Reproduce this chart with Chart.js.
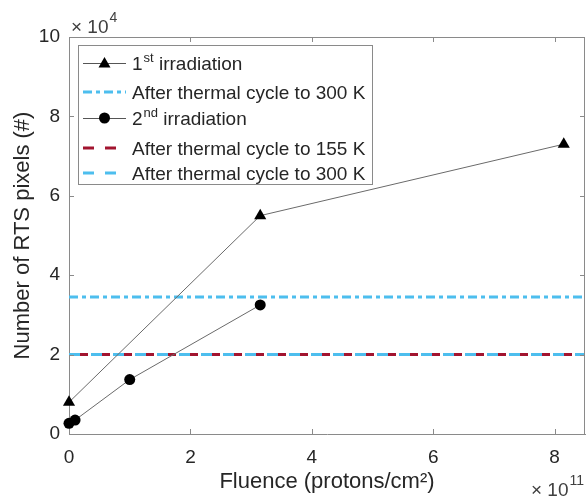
<!DOCTYPE html>
<html>
<head>
<meta charset="utf-8">
<script src="https://cdn.jsdelivr.net/npm/chart.js@4.4.1/dist/chart.umd.min.js"></script>
<style>
  html, body { margin: 0; padding: 0; background: #fff; overflow: hidden; }
  #wrap { width: 592px; height: 502px; }
</style>
</head>
<body>
<div id="wrap"><canvas id="myChart"></canvas></div>
<script>
// values in axis units: fluence x1e11, pixels x1e4
var fluence1 = [0, 3.15, 8.15];
var pixels1 = [0.8, 5.5, 7.3];
var fluence2 = [0, 0.1, 1.0, 3.15];
var pixels2 = [0.27, 0.35, 1.37, 3.25];
var hlineX = [0, 8.5];
var after1_300 = 3.45;
var after2_155 = 2.0;
var after2_300 = 2.0;
var xTicks = [0, 2, 4, 6, 8];
var yTicks = [0, 2, 4, 6, 8, 10];

var CYAN = '#4DBEEE';
var RED = '#A2142F';
var AXIS = '#8a8a8a';
var TXT = '#262626';
var FONT = 'Liberation Sans, Arial, sans-serif';

function pts(xs, ys) {
    var out = [];
    for (var i = 0; i < xs.length; i++) out.push({x: xs[i], y: ys[i]});
    return out;
}
function hline(v) {
    return [{x: hlineX[0], y: v}, {x: hlineX[1], y: v}];
}

var legendRows = [
    {kind: 'tri', pre: '1', sup: 'st', post: ' irradiation'},
    {kind: 'dashdot', pre: 'After thermal cycle to 300 K'},
    {kind: 'circ', pre: '2', sup: 'nd', post: ' irradiation'},
    {kind: 'red', pre: 'After thermal cycle to 155 K'},
    {kind: 'cyan', pre: 'After thermal cycle to 300 K'}
];

function expLabel(c, x, y, base, exp) {
    c.font = '19px ' + FONT;
    c.fillText(base, x, y);
    var w = c.measureText(base).width;
    c.font = '14px ' + FONT;
    c.fillText(exp, x + w + 1, y - 10);
}

var matlabBits = {
    id: 'matlabBits',
    afterDraw: function (chart) {
        var c = chart.ctx, a = chart.chartArea;
        var xs = chart.scales.x, ys = chart.scales.y;
        c.save();
        // box top/right
        c.strokeStyle = AXIS;
        c.lineWidth = 1;
        c.beginPath();
        c.moveTo(a.left, a.top + 0.5); c.lineTo(a.right, a.top + 0.5);
        c.moveTo(a.right - 0.5, a.top); c.lineTo(a.right - 0.5, a.bottom);
        c.stroke();
        // inward ticks
        c.beginPath();
        xTicks.forEach(function (v) {
            var px = Math.round(xs.getPixelForValue(v)) + 0.5;
            c.moveTo(px, a.bottom); c.lineTo(px, a.bottom - 5);
            c.moveTo(px, a.top); c.lineTo(px, a.top + 5);
        });
        yTicks.forEach(function (v) {
            var py = Math.round(ys.getPixelForValue(v)) + 0.5;
            c.moveTo(a.left, py); c.lineTo(a.left + 5, py);
            c.moveTo(a.right, py); c.lineTo(a.right - 5, py);
        });
        c.stroke();

        // exponent labels
        c.fillStyle = '#404040';
        c.textBaseline = 'middle';
        c.textAlign = 'left';
        expLabel(c, 71, 28, '\u00d7 10', '4');
        expLabel(c, 531, 491, '\u00d7 10', '11');

        // legend
        var L = 78, T = 45, R = 372, B = 184;
        c.fillStyle = '#fff';
        c.fillRect(L, T, R - L, B - T);
        c.strokeStyle = AXIS;
        c.strokeRect(L + 0.5, T + 0.5, R - L, B - T);
        var rowY = [63, 92, 118, 148, 173];
        var x0 = 83, x1 = 126, tx = 132;
        legendRows.forEach(function (row, i) {
            var y = rowY[i];
            c.save();
            if (row.kind === 'tri' || row.kind === 'circ') {
                c.strokeStyle = '#555';
                c.lineWidth = 1;
                c.beginPath(); c.moveTo(x0, y + 0.5); c.lineTo(x1, y + 0.5); c.stroke();
                c.fillStyle = '#000';
                var mx = (x0 + x1) / 2;
                c.beginPath();
                if (row.kind === 'tri') {
                    c.moveTo(mx, y - 6); c.lineTo(mx + 6, y + 4.5); c.lineTo(mx - 6, y + 4.5);
                    c.closePath();
                } else {
                    c.arc(mx, y, 5.5, 0, Math.PI * 2);
                }
                c.fill();
            } else {
                c.lineWidth = 3;
                if (row.kind === 'dashdot') { c.strokeStyle = CYAN; c.setLineDash([9, 4, 4, 4]); }
                if (row.kind === 'red') { c.strokeStyle = RED; c.setLineDash([11, 11]); }
                if (row.kind === 'cyan') { c.strokeStyle = CYAN; c.setLineDash([11, 11]); }
                c.beginPath(); c.moveTo(x0, y); c.lineTo(x1, y); c.stroke();
            }
            c.restore();
            c.fillStyle = TXT;
            c.textBaseline = 'alphabetic';
            c.font = '19px ' + FONT;
            var bx = y + 7;
            var cx = tx;
            c.fillText(row.pre, cx, bx);
            cx += c.measureText(row.pre).width;
            if (row.sup) {
                c.font = '13px ' + FONT;
                c.fillText(row.sup, cx + 1, bx - 8);
                cx += c.measureText(row.sup).width + 1;
                c.font = '19px ' + FONT;
                c.fillText(row.post, cx, bx);
            }
        });
        c.restore();
    }
};

var ctx = document.getElementById('myChart').getContext('2d');
var myChart = new Chart(ctx, {
    type: 'scatter',
    data: {
        datasets: [{
            label: '1st irradiation',
            data: pts(fluence1, pixels1),
            showLine: true,
            borderColor: '#6a6a6a',
            borderWidth: 1,
            pointStyle: 'triangle',
            pointRadius: 7,
            pointBackgroundColor: '#000',
            pointBorderWidth: 0,
            clip: false,
            order: 1
        }, {
            label: '2nd irradiation',
            data: pts(fluence2, pixels2),
            showLine: true,
            borderColor: '#6a6a6a',
            borderWidth: 1,
            pointStyle: 'circle',
            pointRadius: 5.5,
            pointBackgroundColor: '#000',
            pointBorderWidth: 0,
            clip: false,
            order: 2
        }, {
            label: 'After thermal cycle to 300 K',
            data: hline(after1_300),
            showLine: true,
            borderColor: CYAN,
            borderWidth: 3,
            borderDash: [9, 4, 4, 4],
            pointRadius: 0,
            order: 3
        }, {
            label: 'After thermal cycle to 155 K',
            data: hline(after2_155),
            showLine: true,
            borderColor: RED,
            borderWidth: 3,
            borderDash: [8, 14],
            borderDashOffset: 11,
            pointRadius: 0,
            order: 4
        }, {
            label: 'After thermal cycle to 300 K ',
            data: hline(after2_300),
            showLine: true,
            borderColor: CYAN,
            borderWidth: 3,
            borderDash: [14, 8],
            pointRadius: 0,
            order: 5
        }]
    },
    options: {
        responsive: true,
        maintainAspectRatio: false,
        animation: false,
        layout: {padding: {left: 0, top: 37, right: 3, bottom: 0}},
        plugins: {legend: {display: false}, tooltip: {enabled: false}},
        scales: {
            x: {
                type: 'linear',
                min: 0,
                max: 8.5,
                afterFit: function (s) { s.height = 68; },
                grid: {display: false, drawTicks: false},
                border: {display: true, color: AXIS, width: 1},
                ticks: {
                    stepSize: 2,
                    includeBounds: false,
                    padding: 12,
                    color: TXT,
                    font: {family: FONT, size: 19}
                },
                title: {
                    display: true,
                    text: 'Fluence (protons/cm\u00b2)',
                    color: TXT,
                    font: {family: FONT, size: 22},
                    padding: {top: 0, bottom: 7}
                }
            },
            y: {
                type: 'linear',
                min: 0,
                max: 10,
                afterFit: function (s) { s.width = 69; },
                grid: {display: false, drawTicks: false},
                border: {display: true, color: AXIS, width: 1},
                ticks: {
                    stepSize: 2,
                    padding: 9,
                    color: TXT,
                    font: {family: FONT, size: 19}
                },
                title: {
                    display: true,
                    text: 'Number of RTS pixels (#)',
                    color: TXT,
                    font: {family: FONT, size: 22},
                    padding: {top: 10, bottom: 0}
                }
            }
        }
    },
    plugins: [matlabBits]
});
</script>
</body>
</html>
